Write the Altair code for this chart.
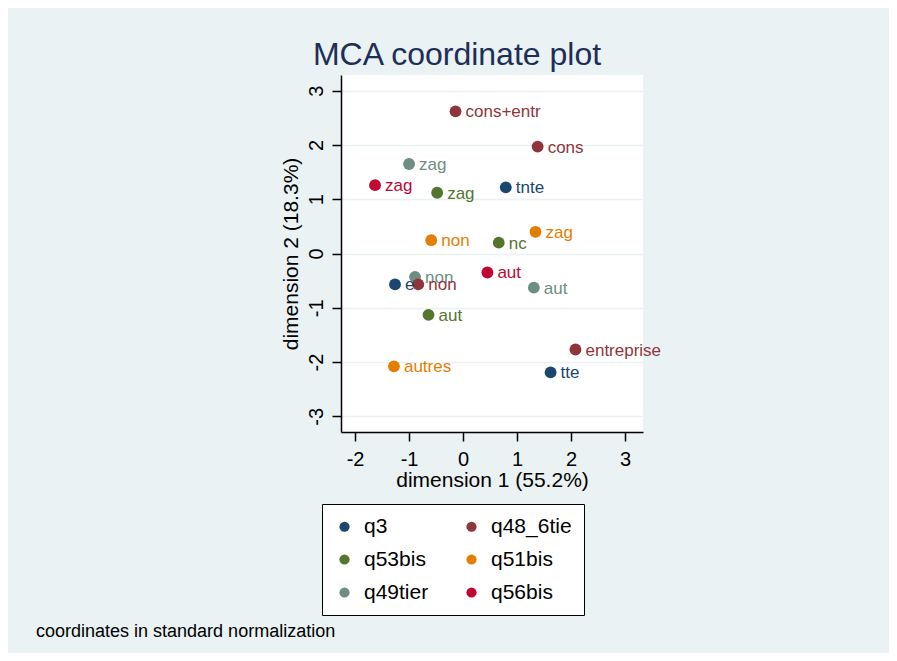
import altair as alt
import pandas as pd

# ---- data ----
# legend order (column-major fill of a 2-column legend gives the reference's row order)
series_order = ["q3", "q53bis", "q49tier", "q48_6tie", "q51bis", "q56bis"]
series_colors = ["#1a476f", "#55752f", "#6e8e84", "#90353b", "#e37e00", "#c10534"]

series = ["q3", "q3", "q3",
          "q49tier", "q49tier", "q49tier",
          "q48_6tie", "q48_6tie", "q48_6tie", "q48_6tie",
          "q53bis", "q53bis", "q53bis",
          "q51bis", "q51bis", "q51bis",
          "q56bis", "q56bis"]
category = ["tnte", "e", "tte",
            "zag", "non", "aut",
            "cons+entr", "cons", "non", "entreprise",
            "zag", "nc", "aut",
            "zag", "non", "autres",
            "zag", "aut"]
dim1 = [0.79, -1.26, 1.62,
        -1.00, -0.89, 1.31,
        -0.14, 1.38, -0.83, 2.08,
        -0.48, 0.66, -0.64,
        1.34, -0.59, -1.28,
        -1.63, 0.45]
dim2 = [1.22, -0.57, -2.19,
        1.65, -0.43, -0.63,
        2.62, 1.97, -0.57, -1.77,
        1.12, 0.20, -1.13,
        0.40, 0.245, -2.08,
        1.26, -0.35]

x_ticks = [-2, -1, 0, 1, 2, 3]
y_ticks = [-3, -2, -1, 0, 1, 2, 3]
footnote = ["coordinates in standard normalization"]

df = pd.DataFrame({"series": series, "category": category, "dim1": dim1, "dim2": dim2})
note_df = pd.DataFrame({"t": footnote})

FONT = "Liberation Sans"
BG = "#EAF2F3"

color_scale = alt.Scale(domain=series_order, range=series_colors)

x_enc = alt.X("dim1:Q", scale=alt.Scale(domain=[-2.26, 3.33], nice=False, zero=False),
              axis=alt.Axis(values=x_ticks, title="dimension 1 (55.2%)", grid=False,
                            tickSize=9, labelPadding=8, titlePadding=0,
                            labelExpr="'' + datum.value"))
y_enc = alt.Y("dim2:Q", scale=alt.Scale(domain=[-3.29, 3.29], nice=False, zero=False),
              axis=alt.Axis(values=y_ticks, title="dimension 2 (18.3%)", grid=True,
                            gridColor=BG, gridWidth=1.5, labelAngle=270,
                            tickSize=9, labelPadding=6, titlePadding=5,
                            labelExpr="'' + datum.value"))

points = alt.Chart(df).mark_circle(size=140, opacity=1).encode(
    x=x_enc, y=y_enc,
    color=alt.Color("series:N", scale=color_scale,
                    legend=alt.Legend(title=None, orient="none", legendX=-19, legendY=429,
                                      columns=2, columnPadding=32, rowPadding=11,
                                      padding=12, strokeColor="black", fillColor="white",
                                      symbolType="circle", symbolSize=105,
                                      labelFontSize=21, labelFont=FONT, labelColor="black",
                                      labelOffset=9)),
)

labels = alt.Chart(df).mark_text(align="left", baseline="middle", dx=10, dy=1,
                                 fontSize=17, font=FONT).encode(
    x="dim1:Q", y="dim2:Q", text="category:N",
    color=alt.Color("series:N", scale=color_scale, legend=None),
)

note = alt.Chart(note_df).mark_text(align="left", baseline="middle", fontSize=18,
                                    font=FONT, color="black").encode(
    text="t:N", x=alt.value(-305), y=alt.value(557))

chart = alt.layer(points, labels, note).properties(
    width=302, height=357,
    title=alt.Title("MCA coordinate plot", fontSize=32, font=FONT, fontWeight="normal",
                    color="#1e2f57", anchor="middle", frame="group", dx=-35, dy=30,
                    baseline="alphabetic", offset=8),
    autosize=alt.AutoSizeParams(type="none"),
    padding={"left": 333, "top": 67, "right": 246, "bottom": 221},
    background=BG,
).configure_view(fill="white", stroke=None).configure_axis(
    labelFont=FONT, titleFont=FONT, labelFontSize=20, titleFontSize=21,
    labelColor="black", titleColor="black", titleFontWeight="normal",
    domainColor="black", domainWidth=1.5, tickColor="black", tickWidth=1.5,
)

chart.save("out.html", embed_options={"renderer": "svg", "actions": False})
